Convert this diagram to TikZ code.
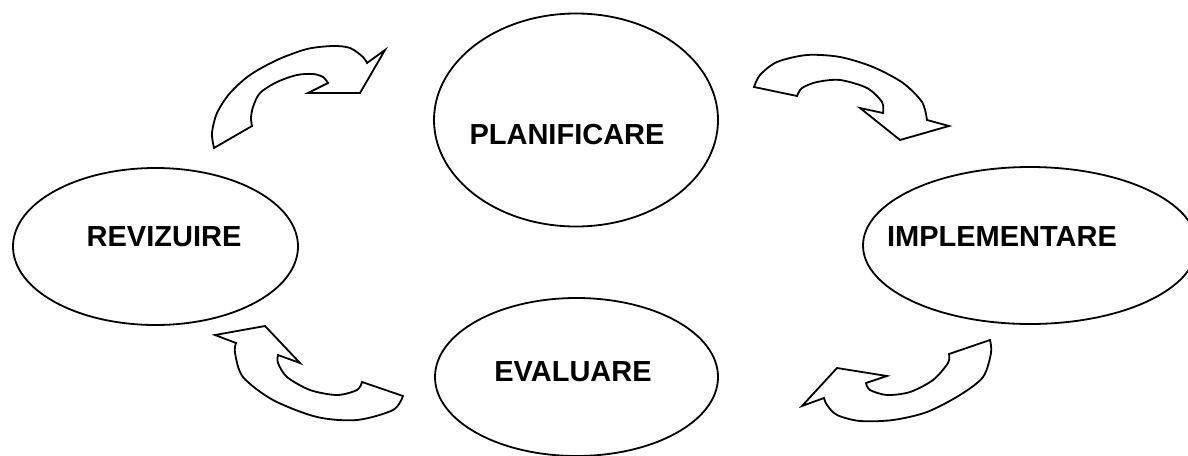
\documentclass[tikz,border=0pt]{standalone}
\usepackage{fontspec}
\setmainfont{Liberation Sans}
\usetikzlibrary{shapes.geometric}
\tikzset{
  phase/.style={draw=black, line width=1.8pt, ellipse, inner sep=0pt, fill=white},
  phasetext/.style={inner sep=0pt, anchor=center, font=\fontsize{29}{32}\selectfont\bfseries},
  blockarrow/.style={draw=black, line width=1.8pt, fill=white, line join=miter}
}
\begin{document}
\begin{tikzpicture}[x=1pt,y=-1pt]
\useasboundingbox (0,0) rectangle (1188,455);
\clip (0,0) rectangle (1188,455);
\fill[white] (0,0) rectangle (1188,455);

% ellipses
\node[phase, minimum width=284pt, minimum height=213pt] (plan) at (576,120) {};
\node[phase, minimum width=285pt, minimum height=157pt] (rev) at (155.5,246.5) {};
\node[phase, minimum width=334pt, minimum height=157pt] (impl) at (1030,245.5) {};
\node[phase, minimum width=283pt, minimum height=158pt] (eval) at (576.5,377) {};

% texts
\node[phasetext] (plant) at (567,135) {PLANIFICARE};
\node[phasetext] (revt) at (164,237) {REVIZUIRE};
\node[phasetext] (implt) at (1002,237) {IMPLEMENTARE};
\node[phasetext] (evalt) at (573,372) {EVALUARE};

% arrow: revizuire -> planificare
\draw[blockarrow] plot[smooth] coordinates {(214,148) (212,133) (217,113) (230,93) (250,75) (277,60) (307,49) (333,46) (350,48) (363,57) (367,63)}
  -- (385,50) -- (360,93) -- (308,93) -- (328,83)
  -- plot[smooth] coordinates {(328,83) (323,77) (313,74) (297,75) (277,82) (260,93) (253,107) (251,118) (252,126)}
  -- cycle;

% arrow: planificare -> implementare
\draw[blockarrow] plot[smooth] coordinates {(754,87) (760,75) (777,62) (807,55) (840,57) (873,67) (903,83) (922,102) (927,120)}
  -- (949,126) -- (900,140) -- (860,108) -- (883,113)
  -- plot[smooth] coordinates {(883,113) (882,102) (867,88) (840,80) (817,82) (802,88) (797,96)}
  -- cycle;

% arrow: implementare -> evaluare
\draw[blockarrow] (990,340) -- (949,354)
  -- plot[smooth] coordinates {(949,354) (948,363) (933,380) (910,392) (887,395) (870,390) (866,383)}
  -- (887,376) -- (837,368) -- (802,406) -- (824,398)
  -- plot[smooth] coordinates {(824,398) (827,405) (837,415) (860,421) (893,420) (927,412) (960,395) (983,377) (991,353) (990,340)}
  -- cycle;

% arrow: evaluare -> revizuire
\draw[blockarrow] (215,335) -- (236,343)
  -- plot[smooth] coordinates {(236,343) (235,353) (243,377) (273,400) (317,417) (357,420) (393,410) (403,396)}
  -- (362,382)
  -- plot[smooth] coordinates {(362,382) (357,390) (337,395) (310,390) (287,377) (278,363) (278,355)}
  -- (300,363) -- (265,326) -- cycle;
\end{tikzpicture}
\end{document}
